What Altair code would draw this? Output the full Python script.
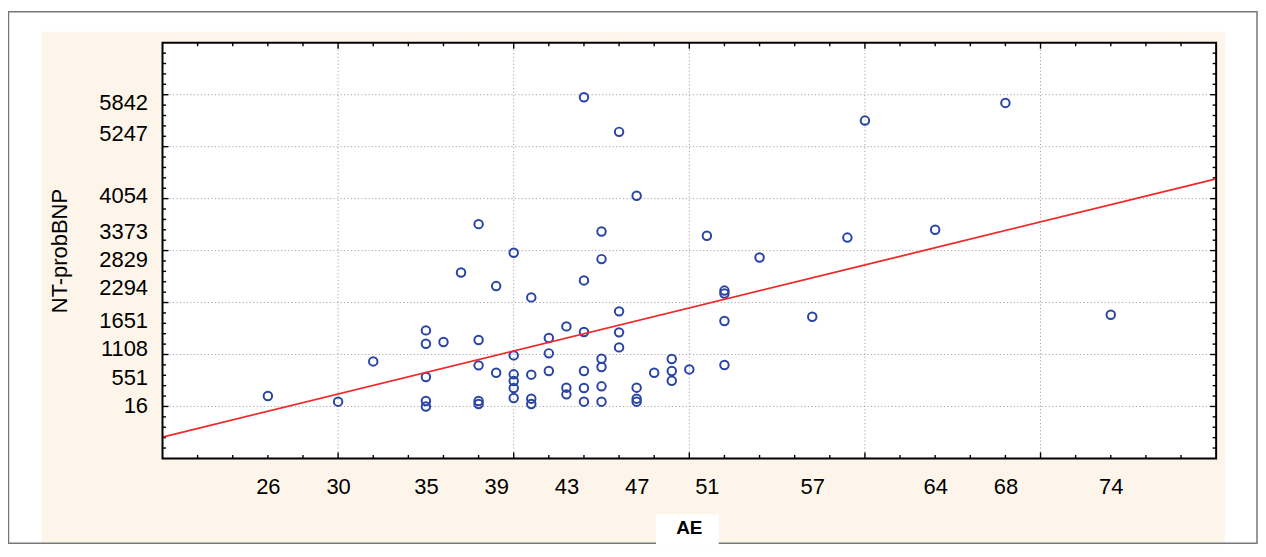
import altair as alt
import pandas as pd

# ---- data ----
ae = [26, 30, 32,
      35, 35, 35, 35, 35,
      36, 37,
      38, 38, 38, 38, 38,
      39, 39,
      40, 40, 40, 40, 40, 40,
      41, 41, 41, 41,
      42, 42, 42,
      43, 43, 43,
      44, 44, 44, 44, 44, 44,
      45, 45, 45, 45, 45, 45,
      46, 46, 46, 46,
      47, 47, 47, 47,
      48, 49, 49, 49, 50, 51,
      52, 52, 52, 52,
      54, 57, 59, 60, 64, 68, 74]
bnp = [202, 92, 867,
       1464, 1208, 567, 105, 0,
       1240, 2579,
       3509, 1278, 791, 105, 47,
       2317, 650,
       2958, 983, 618, 490, 355, 163,
       2099, 612, 150, 47,
       1317, 1022, 682,
       1541, 362, 233,
       5952, 2426, 1432, 682, 355, 92,
       3368, 2836, 919, 759, 387, 92,
       5285, 1830, 1426, 1137,
       4054, 362, 150, 92,
       650, 913, 682, 496, 713, 3285,
       2230, 2175, 1644, 798,
       2868, 1727, 3250, 5502, 3400, 5842, 1765]

x_tick_labels = [26, 30, 35, 39, 43, 47, 51, 57, 64, 68, 74]
y_tick_labels = [16, 551, 1108, 1651, 2294, 2829, 3373, 4054, 5247, 5842]
x_grid = [30, 40, 50, 60, 70]
y_grid = [0, 1000, 2000, 3000, 4000, 5000, 6000]
x_minor = [22, 24, 26, 28, 32, 34, 36, 38, 42, 44, 46, 48, 52, 54, 56, 58,
           62, 64, 66, 68, 72, 74, 76, 78]
y_minor = [-800, -600, -400, -200, 200, 400, 600, 800, 1200, 1400, 1600, 1800,
           2200, 2400, 2600, 2800, 3200, 3400, 3600, 3800, 4200, 4400, 4600, 4800,
           5200, 5400, 5600, 5800, 6200, 6400, 6600, 6800]
fit_ae = [20, 80]
fit_bnp = [-590, 4380]

# ---- layout ----
W, H = 1057, 417
FONT = "Liberation Sans"

pts = pd.DataFrame({"x": ae, "y": bnp})
fit = pd.DataFrame({"x": fit_ae, "y": fit_bnp})
xg = pd.DataFrame({"x": x_grid})
yg = pd.DataFrame({"y": y_grid})
xm = pd.DataFrame({"x": x_minor})
ym = pd.DataFrame({"y": y_minor})
dummy = pd.DataFrame({"d": [0]})

xscale = alt.Scale(domain=[20, 80], nice=False, zero=False)
yscale = alt.Scale(domain=[-1000, 7000], nice=False, zero=False)

xaxis = alt.Axis(values=x_tick_labels, format="d", grid=False, ticks=False, tickSize=0,
                 domain=False, labelFont=FONT, labelFontSize=22, labelColor="#000000",
                 labelPadding=18, labelOverlap=False, labelFlush=False,
                 titleFont=FONT, titleFontSize=19, titleFontWeight="bold",
                 titleColor="#000000", titleX=528, titleY=69, titleAlign="center",
                 titleBaseline="middle", zindex=1)
yaxis = alt.Axis(values=y_tick_labels, format="d", grid=False, ticks=False, tickSize=0,
                 domain=False, labelFont=FONT, labelFontSize=22, labelColor="#000000",
                 labelPadding=15, labelOverlap=False, labelFlush=False,
                 titleFont=FONT, titleFontSize=22, titleFontWeight="normal",
                 titleColor="#000000", titleX=-103, titleY=H / 2, titleAngle=270,
                 titleAlign="center", titleBaseline="middle", zindex=1)


def X():
    return alt.X("x:Q", scale=xscale, axis=xaxis, title="AE")


def Y():
    return alt.Y("y:Q", scale=yscale, axis=yaxis, title="NT-probBNP")


beige = alt.Chart(dummy).mark_rect(color="#fdf5e9").encode(
    x=alt.value(-121), x2=alt.value(1066), y=alt.value(-11), y2=alt.value(503))
outer = alt.Chart(dummy).mark_rect(filled=False, stroke="#777777", strokeWidth=1.5).encode(
    x=alt.value(-154.5), x2=alt.value(1098), y=alt.value(-31), y2=alt.value(502))
plotbg = alt.Chart(dummy).mark_rect(color="#ffffff").encode(
    x=alt.value(0), x2=alt.value(W), y=alt.value(0), y2=alt.value(H))
aebox = alt.Chart(dummy).mark_rect(color="#ffffff").encode(
    x=alt.value(495), x2=alt.value(558), y=alt.value(473), y2=alt.value(503))

grid_style = dict(color="#a6a6a6", strokeWidth=1, strokeDash=[1.2, 2.3])
vgrid = alt.Chart(xg).mark_rule(**grid_style).encode(x=X(), y=alt.value(0), y2=alt.value(H))
hgrid = alt.Chart(yg).mark_rule(**grid_style).encode(y=Y(), x=alt.value(0), x2=alt.value(W))

tk = dict(color="#000000", strokeWidth=1.4)
MAJ, MIN = 6, 3.5
ticks = [
    alt.Chart(xg).mark_rule(**tk).encode(x=X(), y=alt.value(H), y2=alt.value(H - MAJ)),
    alt.Chart(xg).mark_rule(**tk).encode(x=X(), y=alt.value(0), y2=alt.value(MAJ)),
    alt.Chart(xm).mark_rule(**tk).encode(x=X(), y=alt.value(H), y2=alt.value(H - MIN)),
    alt.Chart(xm).mark_rule(**tk).encode(x=X(), y=alt.value(0), y2=alt.value(MIN)),
    alt.Chart(yg).mark_rule(**tk).encode(y=Y(), x=alt.value(0), x2=alt.value(MAJ)),
    alt.Chart(yg).mark_rule(**tk).encode(y=Y(), x=alt.value(W), x2=alt.value(W - MAJ)),
    alt.Chart(ym).mark_rule(**tk).encode(y=Y(), x=alt.value(0), x2=alt.value(MIN)),
    alt.Chart(ym).mark_rule(**tk).encode(y=Y(), x=alt.value(W), x2=alt.value(W - MIN)),
]

points = alt.Chart(pts).mark_point(shape="circle", filled=False, size=72, strokeWidth=2,
                                   color="#2a44a6", opacity=1).encode(x=X(), y=Y())
fitline = alt.Chart(fit).mark_line(color="#f02a2a", strokeWidth=1.8).encode(x=X(), y=Y())

frame = alt.Chart(dummy).mark_rect(filled=False, stroke="#000000", strokeWidth=2).encode(
    x=alt.value(0), x2=alt.value(W), y=alt.value(0), y2=alt.value(H))

chart = alt.layer(beige, outer, plotbg, aebox, vgrid, hgrid, *ticks, points, fitline, frame).properties(
    width=W, height=H,
    padding={"left": 155, "top": 34, "right": 42, "bottom": 86},
    autosize=alt.AutoSizeParams(type="none"),
    background="#ffffff",
).configure_view(stroke=None)

chart.save("out.html", embed_options={"renderer": "svg", "actions": False})
